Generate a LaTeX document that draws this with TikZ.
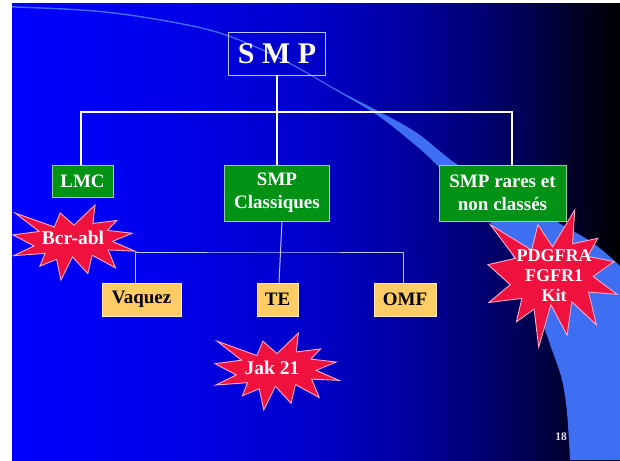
\documentclass[tikz,border=0pt]{standalone}
\usepackage{fontspec}
\setmainfont{Liberation Serif}
\pgfdeclarehorizontalshading{slidebg}{100bp}{rgb(0bp)=(0,0,1); rgb(25bp)=(0,0,1); rgb(37.5bp)=(0,0,0.92); rgb(50bp)=(0,0,0.78); rgb(58.5bp)=(0,0,0.6); rgb(67bp)=(0,0,0.34); rgb(71bp)=(0,0,0.16); rgb(75bp)=(0,0,0); rgb(100bp)=(0,0,0)}
\definecolor{pptgreen}{RGB}{0,146,20}
\definecolor{gborder}{RGB}{150,210,150}
\definecolor{pptorange}{RGB}{255,204,102}
\definecolor{oborder}{RGB}{255,235,200}
\definecolor{boomred}{RGB}{240,18,62}
\definecolor{boomedge}{RGB}{255,170,200}
\definecolor{swooshcol}{RGB}{62,110,242}
\definecolor{subcol}{RGB}{190,200,255}
\definecolor{smpedge}{RGB}{190,195,255}
\newcommand\myboom[4]{%
\begin{scope}[shift={(#1,#2)},xscale=#3,yscale=#4]
\filldraw[boomfill] (0.5,0.2685) -- (0.6723,0) -- (0.6553,0.2465) -- (0.8509,0.2063) -- (0.7732,0.3387) -- (0.9767,0.3767) -- (0.8151,0.4850) -- (1,0.6153) -- (0.7795,0.5992) -- (0.8400,0.8377) -- (0.6491,0.6693) -- (0.6133,0.9137) -- (0.4876,0.6914) -- (0.3928,1) -- (0.3572,0.7235) -- (0.2205,0.8156) -- (0.2624,0.6452) -- (0.0063,0.6753) -- (0.1723,0.5451) -- (0,0.3988) -- (0.2142,0.3526) -- (0.0171,0.1063) -- (0.3385,0.2926) -- (0.3867,0.1063) -- cycle;
\end{scope}}
\begin{document}
\begin{tikzpicture}[x=1pt,y=-1pt,
  gbox/.style={draw=gborder,line width=0.8pt,fill=pptgreen,text=white,font=\fontsize{19}{23}\selectfont\bfseries,inner sep=0pt,align=center},
  obox/.style={draw=oborder,line width=0.8pt,fill=pptorange,text=black,font=\fontsize{19}{23}\selectfont\bfseries,inner sep=0pt},
  mainline/.style={draw=white,line width=2pt},
  subline/.style={draw=subcol,line width=1pt},
  boomfill/.style={fill=boomred,draw=boomedge,line width=0.9pt},
  boomtext/.style={text=white,font=\fontsize{18}{20}\selectfont\bfseries,align=center,inner sep=0pt}]
\useasboundingbox (0,0) rectangle (620,460);
\fill[white] (0,0) rectangle (620,460);
\shade[shading=slidebg] (12,4) rectangle (620,460);
% swoosh
\fill[swooshcol] plot[smooth,tension=0.6] coordinates {(12,6.2) (100,10.8) (180,22.8) (230,35.8) (285,60.2) (340,91.3) (378,111) (417,133) (458,165) (510,194) (557,222) (593,243) (620,266)}
  -- (620,460)
  -- plot[smooth,tension=0.6] coordinates {(570,460) (567,413) (562,380) (552,350) (540,317) (518,266) (490,222) (437,165) (402,134) (374,113) (340,92.8) (285,61.6) (230,37.2) (180,24.2) (100,12.2) (12,7.6)} -- cycle;
% nodes
\node[draw=smpedge,line width=0.9pt,minimum width=97pt,minimum height=43pt,inner sep=0pt,text=white,font=\fontsize{30}{30}\selectfont\bfseries] (smp) at (277,53.5) {S M P};
\node[gbox,minimum width=61pt,minimum height=32pt] (lmc) at (82.5,181) {LMC};
\node[gbox,minimum width=105pt,minimum height=56pt] (cla) at (277,193) {SMP\\Classiques};
\node[gbox,minimum width=127pt,minimum height=56pt] (rar) at (502.5,193) {SMP rares et\\non classés};
\node[obox,minimum width=79pt,minimum height=33pt] (vaq) at (141.5,299.5) {Vaquez};
\node[obox,minimum width=41pt,minimum height=33pt] (te) at (277.5,299.5) {TE};
\node[obox,minimum width=62pt,minimum height=33pt] (omf) at (405,299.5) {OMF};
% connector anchors
\coordinate (bus) at (277,112);
\coordinate (bus2) at (277,252);
\coordinate (lmctop) at ([xshift=-1.5pt]lmc.north);
\coordinate (rartop) at ([xshift=9.5pt]rar.north);
\coordinate (clabot) at ([xshift=5pt]cla.south);
\coordinate (tetop) at ([xshift=1.5pt]te.north);
\coordinate (vaqtop) at ([xshift=-6.5pt]vaq.north);
\coordinate (omftop) at ([xshift=-2pt]omf.north);
% main connectors
\draw[mainline] (smp.south) -- (cla.north);
\draw[mainline] (lmctop) |- (bus) -| (rartop);
% sub connectors
\draw[subline] (clabot) -- (tetop);
\draw[subline] (vaqtop) |- (bus2) -| (omftop);
% stars
\myboom{13}{205}{122}{75}
\myboom{215}{333}{124}{77}
\myboom{488}{210}{129}{137}
\node[boomtext,font=\fontsize{19.5}{20}\selectfont\bfseries] (bcr) at (73,238) {Bcr-abl};
\node[boomtext,font=\fontsize{19.5}{20}\selectfont\bfseries] (jak) at (272,368) {Jak 21};
\node[boomtext] (pdg) at (554,276) {PDGFRA\\FGFR1\\Kit};
\node[text=white!90!blue,font=\fontsize{11.5}{12}\selectfont\bfseries,inner sep=0pt] (num) at (561,437) {18};
\end{tikzpicture}
\end{document}
